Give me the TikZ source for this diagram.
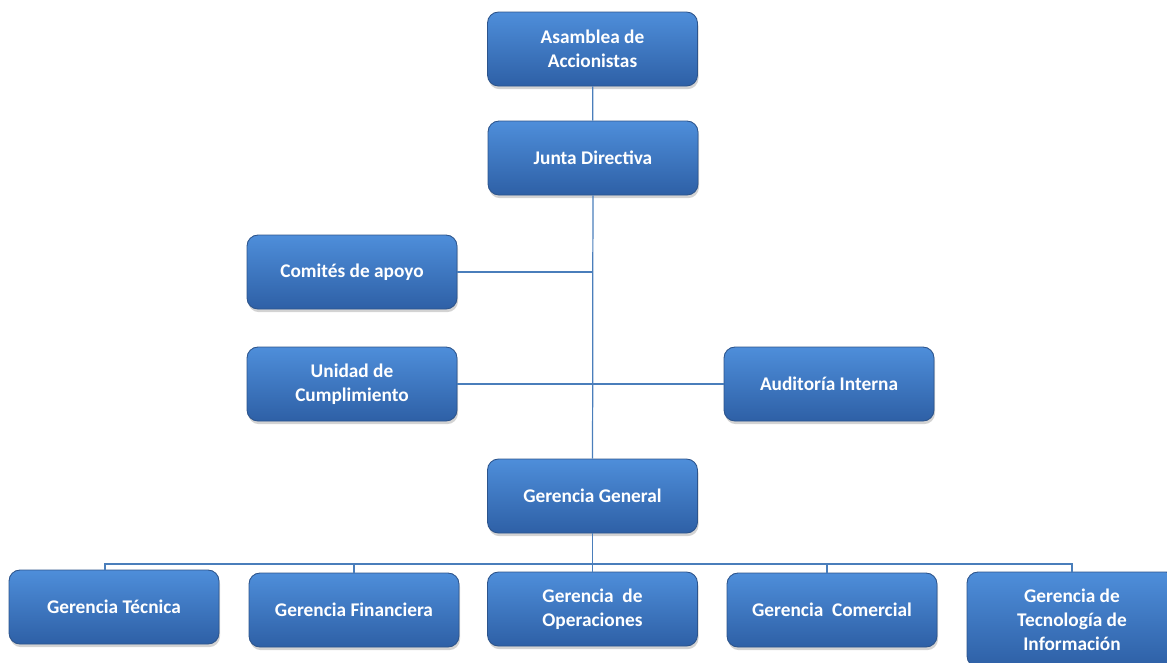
\documentclass[tikz,border=0pt]{standalone}
\usepackage{fontspec}
\setmainfont{Carlito}
\usepackage{xcolor}
\usetikzlibrary{positioning, shadows}

\definecolor{boxtop}{RGB}{78,142,218}
\definecolor{boxbot}{RGB}{46,96,166}
\definecolor{boxline}{RGB}{44,84,140}
\definecolor{linkblue}{RGB}{74,126,187}

\begin{document}
\begin{tikzpicture}[
        orgbox/.style={rectangle, draw=boxline, line width=0.5pt, top color=boxtop, bottom color=boxbot, rounded corners=0.22cm, minimum width=4.2cm, minimum height=1.48cm, align=center, text=white, font=\fontsize{11}{13.6}\selectfont\bfseries, drop shadow={opacity=0.35, shadow xshift=0.6pt, shadow yshift=-1.8pt}},
        link/.style={draw=linkblue, line width=0.7pt}
        ]
        \useasboundingbox (0,0) rectangle (23.34,-13.24);

        % Top of the chart
        \node (asamblea) [orgbox] at (11.85,-0.98) {Asamblea de\\Accionistas};
        \node (junta) [orgbox] at (11.86,-3.16) {Junta Directiva};

        % Support units
        \node (comites) [orgbox] at (7.04,-5.44) {Comités de apoyo};
        \node (unidad) [orgbox] at (7.04,-7.68) {Unidad de\\Cumplimiento};
        \node (auditoria) [orgbox] at (16.58,-7.68) {Auditoría Interna};

        \node (general) [orgbox] at (11.85,-9.92) {Gerencia General};

        % Managements (bottom row)
        \node (tecnica) [orgbox] at (2.28,-12.14) {Gerencia Técnica};
        \node (financiera) [orgbox] at (7.08,-12.2) {Gerencia Financiera};
        \node (operaciones) [orgbox] at (11.85,-12.18) {Gerencia\ \ de\\Operaciones};
        \node (comercial) [orgbox] at (16.64,-12.2) {Gerencia\ \ Comercial};
        \node (tic) [orgbox, minimum height=1.9cm] at (21.44,-12.39) {Gerencia de\\Tecnología de\\Información};

        \coordinate (bus) at (11.85,-11.28);

        % Connectors
        \draw [link] (asamblea) -- (junta);
        \draw [link] (junta) -- (general);
        \draw [link] (comites.east) -- (comites.east -| junta.south);
        \draw [link] (unidad.east) -- (auditoria.west);
        \draw [link] (general) -- (operaciones);
        \draw [link] ([xshift=-0.18cm]tecnica.north) -- ([xshift=-0.18cm]tecnica.north |- bus) -- (tic.north |- bus) -- (tic.north);
        \draw [link] (financiera.north) -- (financiera.north |- bus);
        \draw [link] ([xshift=-0.1cm]comercial.north) -- ([xshift=-0.1cm]comercial.north |- bus);

    \end{tikzpicture}
\end{document}
